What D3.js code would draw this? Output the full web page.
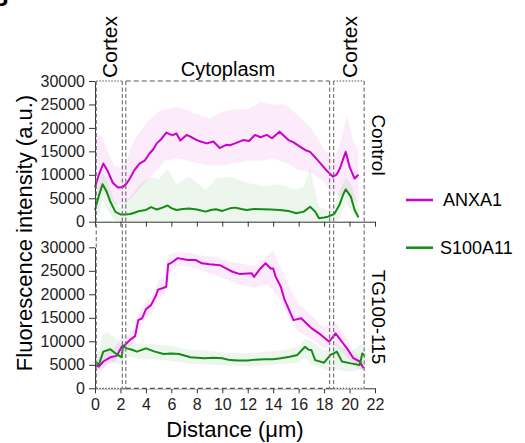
<!DOCTYPE html>
<html>
<head>
<meta charset="utf-8">
<script src="https://cdn.jsdelivr.net/npm/d3@7"></script>
<style>
    html, body { margin: 0; padding: 0; background: #fff; }
    #profile { width: 525px; height: 443px; }
    svg { font-family: "Liberation Sans", Arial, sans-serif; display: block; }
    .axis path, .axis line { stroke: #333; }
    .axis text { fill: #222; font-size: 16px; }
</style>
</head>
<body>
<div id="profile"></div>
<script>
const xTicks = [0, 2, 4, 6, 8, 10, 12, 14, 16, 18, 20, 22];
const yTicks = [0, 5000, 10000, 15000, 20000, 25000, 30000];
const seriesNames = ["ANXA1", "S100A11"];
const panelNames = ["Control", "TG100-115"];
const regionNames = ["Cortex", "Cytoplasm", "Cortex"];
const regionBounds = [[0.1, 2.15], [2.42, 18.43], [18.75, 21.15]];

// [distance, mean]
const controlAnxa1 = [
    [0, 7300], [0.3, 10000], [0.65, 12400], [1.0, 10800], [1.4, 8300], [1.8, 7300], [2.2, 7400],
    [2.5, 8200], [2.75, 9250], [3.1, 11000], [3.5, 12400], [3.9, 13000], [4.3, 14600], [4.6, 15500],
    [4.85, 16700], [5.2, 17600], [5.6, 19000], [5.9, 18600], [6.15, 18500], [6.4, 18800], [6.7, 17300],
    [7.2, 18500], [7.6, 18000], [8.0, 17400], [8.4, 17000], [8.8, 16700], [9.3, 17100], [9.8, 15700],
    [10.3, 16400], [10.6, 16300], [11.0, 16700], [11.65, 17400], [12.1, 17200], [12.57, 18500],
    [13.0, 18000], [13.5, 18500], [13.9, 17800], [14.5, 19200], [15.2, 17400], [15.6, 16900],
    [16.1, 16000], [16.5, 15300], [16.9, 14900], [17.3, 13700], [17.7, 12500], [18.2, 10900],
    [18.7, 9600], [19.0, 10100], [19.25, 11400], [19.5, 13400], [19.7, 14900], [20.0, 11700],
    [20.4, 9200], [20.7, 10000]
];
const controlS100a11 = [
    [0, 2500], [0.3, 5500], [0.6, 8000], [0.9, 6500], [1.2, 4300], [1.6, 2100], [2.0, 1550],
    [2.4, 1550], [2.75, 1650], [3.1, 1900], [3.5, 2300], [4.0, 2500], [4.4, 3100], [4.85, 2600],
    [5.3, 3000], [5.7, 3450], [6.0, 2900], [6.4, 2500], [6.9, 2700], [7.4, 2800], [8.0, 2600],
    [8.7, 2150], [9.1, 2500], [9.5, 2650], [10.0, 2300], [10.6, 2850], [11.0, 3000], [11.5, 2700],
    [11.9, 2500], [12.5, 2700], [13.2, 2650], [13.8, 2600], [14.5, 2500], [15.2, 2300], [15.8, 1800],
    [16.4, 2150], [16.9, 3200], [17.3, 2150], [17.6, 720], [18.0, 900], [18.3, 1070], [18.8, 1650],
    [19.2, 3550], [19.5, 5800], [19.7, 6900], [20.1, 5350], [20.4, 2500], [20.7, 950]
];
const tgAnxa1 = [
    [0, 5000], [0.3, 4600], [0.65, 5700], [1.2, 6600], [1.7, 6900], [2.1, 8850], [2.35, 9200],
    [2.75, 10300], [3.15, 11100], [3.4, 14500], [3.7, 14900], [4.0, 16800], [4.4, 17700], [4.8, 19800],
    [4.95, 21000], [5.3, 21300], [5.6, 21600], [5.75, 26400], [6.0, 26700], [6.5, 27700], [7.3, 27300],
    [7.9, 27300], [8.4, 26600], [9.0, 26400], [9.8, 26200], [10.3, 25500], [10.8, 24800], [11.4, 24300],
    [12.3, 24500], [12.5, 23700], [13.0, 25500], [13.4, 26600], [13.8, 25500], [14.0, 25500],
    [14.2, 23700], [14.6, 21600], [14.9, 18800], [15.6, 14500], [16.2, 14900], [17.0, 12800],
    [17.6, 11700], [18.4, 9900], [18.9, 11700], [19.4, 9900], [19.8, 8500], [20.3, 6400], [20.8, 5700],
    [21.1, 4250]
];
const tgS100a11 = [
    [0, 5700], [0.3, 5000], [0.65, 7800], [1.2, 8300], [1.6, 7450], [1.8, 7100], [2.1, 6600],
    [2.2, 9000], [2.5, 8500], [2.9, 8200], [3.3, 7800], [4.0, 8500], [4.7, 7800], [5.4, 7300],
    [6.0, 7400], [6.6, 7300], [7.5, 6600], [8.6, 6400], [9.3, 6500], [10.0, 6400], [10.6, 6000],
    [11.2, 5900], [12.0, 5900], [12.6, 6100], [13.3, 6200], [14.0, 6200], [14.6, 6400], [15.3, 6700],
    [15.9, 7100], [16.5, 8850], [16.8, 8200], [17.0, 8150], [17.3, 6000], [18.0, 5450], [18.5, 7100],
    [18.8, 7500], [19.0, 7800], [19.4, 5700], [20.1, 5300], [20.8, 4950], [21.0, 7400], [21.2, 7000]
];

// [distance, lower, upper]
const controlAnxa1Band = [
    [0, 4500, 18000], [0.5, 6500, 18500], [1.0, 5500, 15000], [1.5, 3800, 12000], [2.0, 3500, 11500],
    [2.5, 4000, 13500], [3.0, 5500, 17000], [4.0, 8500, 21000], [5.0, 11500, 23500], [5.5, 13000, 24000],
    [6.5, 13500, 24500], [8.0, 12500, 23000], [9.0, 12000, 22000], [10.0, 12000, 23500],
    [11.0, 12500, 24000], [12.0, 13000, 24000], [13.0, 13000, 25500], [14.0, 13500, 25000],
    [15.0, 12500, 25000], [16.0, 11000, 22500], [17.0, 10500, 20000], [18.0, 8500, 15500],
    [18.7, 6000, 13000], [19.3, 5500, 17000], [19.8, 7000, 22500], [20.3, 4500, 17000], [20.7, 4000, 15000]
];
const controlS100a11Band = [
    [0, 500, 4500], [0.3, 1500, 8500], [0.6, 4500, 10500], [1.0, 2500, 8500], [1.5, 300, 4500],
    [2.0, 0, 3000], [2.5, 0, 4500], [3.0, 0, 6000], [3.5, 0, 8000], [4.4, 0, 9600], [5.0, 0, 9000],
    [5.7, 0, 11400], [6.4, 0, 8000], [7.4, 0, 9600], [8.7, 0, 6800], [9.5, 0, 9200], [10.6, 0, 9600],
    [11.9, 0, 8300], [13.2, 0, 7600], [14.5, 0, 8000], [15.8, 0, 6800], [16.4, 0, 7500], [16.9, 0, 11400],
    [17.3, 0, 6500], [17.6, 0, 3200], [18.3, 0, 2500], [18.8, 0, 3500], [19.2, 500, 6500],
    [19.7, 4000, 9500], [20.1, 2500, 8000], [20.7, 0, 3200]
];
const tgAnxa1Band = [
    [0, 3800, 6200], [0.5, 4000, 7000], [1.0, 5000, 8200], [1.5, 5500, 8500], [2.0, 7000, 10500],
    [2.5, 8500, 11000], [3.0, 9500, 12500], [3.5, 12500, 16500], [4.0, 15000, 18500], [4.5, 16000, 19500],
    [5.0, 19000, 23000], [5.5, 20000, 24000], [5.8, 24500, 28500], [6.5, 26200, 29000],
    [7.5, 25800, 28800], [8.5, 25000, 28200], [9.5, 24000, 28000], [10.5, 23000, 27000],
    [11.5, 22000, 26500], [12.5, 21500, 26000], [13.5, 22000, 28000], [14.0, 21000, 29500],
    [14.6, 18500, 25500], [15.2, 15000, 22000], [16.0, 12000, 18000], [17.0, 10500, 15500],
    [18.0, 8500, 13000], [18.9, 9000, 14000], [19.5, 7500, 12000], [20.3, 5000, 8000], [21.1, 3500, 5500]
];
const tgS100a11Band = [
    [0, 3000, 7500], [0.3, 2500, 8000], [0.6, 4000, 11500], [1.0, 5500, 12000], [1.5, 5500, 11000],
    [2.0, 5000, 9500], [2.5, 7000, 10000], [3.5, 6200, 9500], [4.5, 6200, 9500], [6.0, 5800, 9000],
    [7.5, 5200, 8200], [9.0, 5000, 8000], [10.5, 4800, 7500], [12.0, 4700, 7500], [13.5, 4900, 7800],
    [15.0, 5200, 8200], [16.0, 5500, 9000], [16.5, 6500, 10500], [17.0, 5000, 10000],
    [18.0, 4000, 8000], [19.0, 4000, 9500], [20.0, 3500, 7500], [21.0, 4000, 9500], [21.2, 4000, 10500]
];

(function () {
    "use strict";

    const colors = { ANXA1: "#cc00cc", S100A11: "#148c14" };

    function drawPanel(canvas, xScale, yScale, lines, bands, showLabels) {
        const area = d3.area()
            .x(d => xScale(d[0]))
            .y0(d => yScale(d[1]))
            .y1(d => yScale(d[2]));

        const line = d3.line()
            .x(d => xScale(d[0]))
            .y(d => yScale(d[1]));

        bands.forEach((band, i) => {
            canvas.append("path")
                .attr("d", area(band))
                .attr("fill", colors[seriesNames[i]])
                .attr("fill-opacity", 0.08);
        });

        lines.forEach((data, i) => {
            canvas.append("path")
                .attr("d", line(data))
                .attr("fill", "none")
                .attr("stroke", colors[seriesNames[i]])
                .attr("stroke-width", 2)
                .attr("stroke-linejoin", "round");
        });

        const yAxis = canvas.append("g")
            .attr("class", "axis")
            .attr("transform", `translate(${xScale(0)},0)`)
            .call(d3.axisLeft(yScale).tickValues(yTicks).tickSize(6).tickSizeOuter(0).tickFormat(d3.format("d")));
        yAxis.selectAll(".tick text").attr("dx", "-1");

        const xAxis = canvas.append("g")
            .attr("class", "axis")
            .attr("transform", `translate(0,${yScale(0)})`)
            .call(d3.axisBottom(xScale).tickValues(xTicks).tickSize(5).tickSizeOuter(0));
        if (!showLabels) {
            xAxis.selectAll(".tick text").remove();
        } else {
            xAxis.selectAll(".tick text").attr("dy", "0.85em");
        }
    }

    function drawRegions(svg, xScale, yTop, yBottom) {
        const g = svg.append("g").attr("class", "regions");
        const top = yTop(30000);
        const bottom = yBottom(0);

        regionBounds.forEach((b, i) => {
            const dash = regionNames[i] === "Cortex" ? "1.5,1.5" : "5,3";
            [top, bottom].forEach(y => {
                g.append("line")
                    .attr("x1", xScale(b[0])).attr("x2", xScale(b[1]))
                    .attr("y1", y).attr("y2", y)
                    .attr("stroke", "#fff").attr("stroke-width", 1.6);
                g.append("line")
                    .attr("x1", xScale(b[0])).attr("x2", xScale(b[1]))
                    .attr("y1", y).attr("y2", y)
                    .attr("stroke", "#555").attr("stroke-width", 1.2)
                    .attr("stroke-dasharray", dash);
            });
            b.forEach(x => {
                g.append("line")
                    .attr("x1", xScale(x)).attr("x2", xScale(x))
                    .attr("y1", top).attr("y2", bottom)
                    .attr("stroke", "#777").attr("stroke-width", 1.2)
                    .attr("stroke-dasharray", "4,2.5");
            });
        });

        // region captions
        [0, 2].forEach(i => {
            const cx = xScale((regionBounds[i][0] + regionBounds[i][1]) / 2) + 8;
            svg.append("text")
                .attr("transform", `translate(${cx},47) rotate(-90)`)
                .attr("text-anchor", "middle")
                .style("font-size", "21px")
                .text(regionNames[i]);
        });
        svg.append("text")
            .attr("x", 228)
            .attr("y", 76)
            .attr("text-anchor", "middle")
            .style("font-size", "20px")
            .text(regionNames[1]);
    }

    function drawChart(selection) {
        const svg = selection.append("svg")
            .attr("width", 525)
            .attr("height", 443);

        const xScale = d3.scaleLinear().domain([0, 22]).range([95, 375]);
        const yTop = d3.scaleLinear().domain([0, 30000]).range([221.7, 81]);
        const yBottom = d3.scaleLinear().domain([0, 30000]).range([388.3, 247.3]);

        // panel letter, cut off at the corner as in the figure
        svg.append("text")
            .attr("x", -9).attr("y", 6)
            .style("font-size", "24px").style("font-weight", "bold")
            .text("B");

        const top = svg.append("g").attr("class", "panel control");
        drawPanel(top, xScale, yTop, [controlAnxa1, controlS100a11], [controlAnxa1Band, controlS100a11Band], false);

        const bottom = svg.append("g").attr("class", "panel tg");
        drawPanel(bottom, xScale, yBottom, [tgAnxa1, tgS100a11], [tgAnxa1Band, tgS100a11Band], true);

        drawRegions(svg, xScale, yTop, yBottom);

        // panel names
        [[yTop, 145], [yBottom, 317]].forEach((p, i) => {
            svg.append("text")
                .attr("transform", `translate(372,${p[1]}) rotate(90)`)
                .attr("text-anchor", "middle")
                .style("font-size", "19px")
                .text(panelNames[i]);
        });

        svg.append("text")
            .attr("transform", "translate(32,233) rotate(-90)")
            .attr("text-anchor", "middle")
            .style("font-size", "22px")
            .text("Fluorescence intensity (a.u.)");

        svg.append("text")
            .attr("x", 235)
            .attr("y", 437)
            .attr("text-anchor", "middle")
            .style("font-size", "22px")
            .text("Distance (μm)");

        // legend
        const legend = svg.append("g").attr("class", "legend");
        [[200, 443], [247.7, 440]].forEach((pos, i) => {
            legend.append("line")
                .attr("x1", 406).attr("x2", 433)
                .attr("y1", pos[0]).attr("y2", pos[0])
                .attr("stroke", colors[seriesNames[i]])
                .attr("stroke-width", 2.5);
            legend.append("text")
                .attr("x", pos[1])
                .attr("y", pos[0])
                .attr("dy", "0.35em")
                .style("font-size", "18px")
                .text(seriesNames[i]);
        });
    }

    d3.select("#profile").call(drawChart);
}());
</script>
</body>
</html>
